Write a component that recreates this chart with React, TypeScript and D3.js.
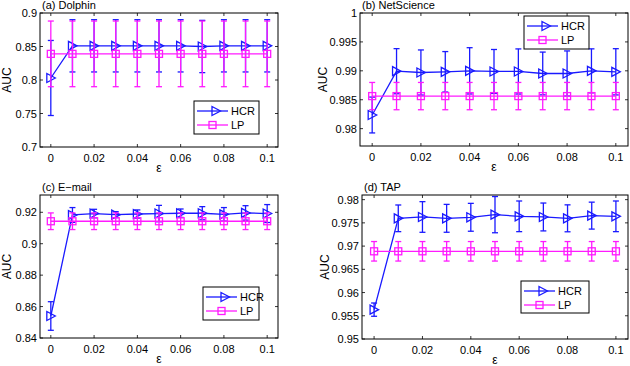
import React from 'react';
import * as d3 from 'd3';

// epsilon values shared by every panel
const EPS = [0, 0.01, 0.02, 0.03, 0.04, 0.05, 0.06, 0.07, 0.08, 0.09, 0.1];
const X_TICKS = [0, 0.02, 0.04, 0.06, 0.08, 0.1];

// (a) Dolphin
const dolphinHCR = [0.803, 0.851, 0.851, 0.851, 0.851, 0.851, 0.851, 0.850, 0.851, 0.851, 0.851];
const dolphinHCRErr = [0.056, 0.039, 0.039, 0.039, 0.039, 0.039, 0.039, 0.039, 0.039, 0.039, 0.039];
const dolphinLP = [0.839, 0.839, 0.839, 0.839, 0.839, 0.839, 0.839, 0.839, 0.839, 0.839, 0.839];
const dolphinLPErr = [0.049, 0.049, 0.049, 0.049, 0.049, 0.049, 0.049, 0.049, 0.049, 0.049, 0.049];
const dolphinTicks = [0.7, 0.75, 0.8, 0.85, 0.9];

// (b) NetScience
const netHCR = [0.98236, 0.98994, 0.98971, 0.98983, 0.99, 0.98989, 0.98989, 0.98954, 0.98954, 0.99, 0.98983];
const netHCRErr = [0.0031, 0.0039, 0.0039, 0.0035, 0.004, 0.0038, 0.0039, 0.0037, 0.0039, 0.0038, 0.004];
const netLP = [0.98563, 0.98563, 0.98563, 0.98563, 0.98563, 0.98563, 0.98563, 0.98563, 0.98563, 0.98563, 0.98563];
const netLPErr = [0.00236, 0.00236, 0.00236, 0.00236, 0.00236, 0.00236, 0.00236, 0.00236, 0.00236, 0.00236, 0.00236];
const netTicks = [0.98, 0.985, 0.99, 0.995, 1];

// (c) E-mail
const mailHCR = [0.854, 0.9183, 0.9192, 0.9185, 0.9189, 0.9192, 0.9194, 0.9194, 0.9187, 0.9196, 0.9192];
const mailHCRErr = [0.0091, 0.0047, 0.0027, 0.0019, 0.0026, 0.0052, 0.0027, 0.0042, 0.0043, 0.0046, 0.0057];
const mailLP = [0.9143, 0.9143, 0.9143, 0.9143, 0.9143, 0.9143, 0.9143, 0.9143, 0.9143, 0.9143, 0.9143];
const mailLPErr = [0.0053, 0.0053, 0.0053, 0.0053, 0.0053, 0.0053, 0.0053, 0.0053, 0.0053, 0.0053, 0.0053];
const mailTicks = [0.84, 0.86, 0.88, 0.9, 0.92];

// (d) TAP
const tapHCR = [0.95632, 0.97598, 0.97627, 0.97598, 0.9762, 0.97677, 0.97641, 0.97627, 0.97598, 0.97656, 0.97641];
const tapHCRErr = [0.00143, 0.00287, 0.0033, 0.003, 0.003, 0.0039, 0.0033, 0.003, 0.0029, 0.0029, 0.0033];
const tapLP = [0.96888, 0.96888, 0.96888, 0.96888, 0.96888, 0.96888, 0.96888, 0.96888, 0.96888, 0.96888, 0.96888];
const tapLPErr = [0.0021, 0.0021, 0.0021, 0.0021, 0.0021, 0.0021, 0.0021, 0.0021, 0.0021, 0.0021, 0.0021];
const tapTicks = [0.95, 0.955, 0.96, 0.965, 0.97, 0.975, 0.98];

const BLUE = '#1a1aff';
const MAGENTA = '#ff1aff';
const FONT = 'Liberation Sans, Arial, Helvetica, sans-serif';

type PanelProps = {
  title: string;
  box: { l: number; r: number; t: number; b: number };
  yLabelX: number;
  yDomain: [number, number];
  yTicks: number[];
  fmt: (v: number) => string;
  hcr: number[];
  hcrErr: number[];
  lp: number[];
  lpErr: number[];
  legend: { x: number; y: number; w: number; h: number };
};

const tri = (x: number, y: number) => `M${x - 4},${y - 4.5}L${x + 4.5},${y}L${x - 4},${y + 4.5}Z`;

const Series = ({ xs, ys, vals, errs, color, marker }: any) => {
  const line = d3.line<number>().x((_, i) => xs(EPS[i])).y(v => ys(v));
  return (
    <g stroke={color} fill="none" strokeWidth={1.3}>
      {vals.map((v: number, i: number) => {
        const x = xs(EPS[i]);
        const y0 = ys(v - errs[i]);
        const y1 = ys(v + errs[i]);
        return (
          <g key={i}>
            <line x1={x} x2={x} y1={y0} y2={y1} />
            <line x1={x - 3} x2={x + 3} y1={y0} y2={y0} />
            <line x1={x - 3} x2={x + 3} y1={y1} y2={y1} />
          </g>
        );
      })}
      <path d={line(vals) || ''} />
      {vals.map((v: number, i: number) =>
        marker === 'tri'
          ? <path key={'m' + i} d={tri(xs(EPS[i]), ys(v))} />
          : <rect key={'m' + i} x={xs(EPS[i]) - 3.5} y={ys(v) - 3.5} width={7} height={7} />
      )}
    </g>
  );
};

const Panel = (p: PanelProps) => {
  const { box } = p;
  const xs = d3.scaleLinear().domain([-0.005, 0.105]).range([box.l, box.r]);
  const ys = d3.scaleLinear().domain(p.yDomain).range([box.b, box.t]);
  const fx = (v: number) => (v === 0 ? '0' : d3.format('.2~f')(v));
  const lg = p.legend;
  return (
    <g fontFamily={FONT} fontSize={11}>
      <text x={box.l + 2} y={box.t - 4}>{p.title}</text>
      <rect x={box.l} y={box.t} width={box.r - box.l} height={box.b - box.t} fill="white" stroke="none" />
      {/* ticks inside box, both sides */}
      <g stroke="black" strokeWidth={0.8}>
        {X_TICKS.map(t => (
          <g key={t}>
            <line x1={xs(t)} x2={xs(t)} y1={box.b} y2={box.b - 3} />
            <line x1={xs(t)} x2={xs(t)} y1={box.t} y2={box.t + 3} />
          </g>
        ))}
        {p.yTicks.map(t => (
          <g key={t}>
            <line x1={box.l} x2={box.l + 3} y1={ys(t)} y2={ys(t)} />
            <line x1={box.r} x2={box.r - 3} y1={ys(t)} y2={ys(t)} />
          </g>
        ))}
      </g>
      {X_TICKS.map(t => (
        <text key={t} x={xs(t)} y={box.b + 15} textAnchor="middle">{fx(t)}</text>
      ))}
      {p.yTicks.map(t => (
        <text key={t} x={box.l - 3} y={ys(t) + 4} textAnchor="end">{p.fmt(t)}</text>
      ))}
      <text x={(box.l + box.r) / 2} y={box.b + 25} textAnchor="middle" fontSize={12}>ε</text>
      <text transform={`translate(${p.yLabelX},${(box.t + box.b) / 2}) rotate(-90)`} textAnchor="middle" fontSize={12}>AUC</text>
      <Series xs={xs} ys={ys} vals={p.hcr} errs={p.hcrErr} color={BLUE} marker="tri" />
      <Series xs={xs} ys={ys} vals={p.lp} errs={p.lpErr} color={MAGENTA} marker="sq" />
      <rect x={box.l} y={box.t} width={box.r - box.l} height={box.b - box.t} fill="none" stroke="black" strokeWidth={1} />
      {/* legend */}
      <g>
        <rect x={lg.x} y={lg.y} width={lg.w} height={lg.h} fill="white" stroke="black" strokeWidth={1} />
        <g fill="none" strokeWidth={1.3}>
          <line x1={lg.x + 3} x2={lg.x + 34} y1={lg.y + 10} y2={lg.y + 10} stroke={BLUE} />
          <path d={tri(lg.x + 22, lg.y + 10)} stroke={BLUE} />
          <line x1={lg.x + 3} x2={lg.x + 34} y1={lg.y + 24} y2={lg.y + 24} stroke={MAGENTA} />
          <rect x={lg.x + 15} y={lg.y + 20.5} width={7} height={7} stroke={MAGENTA} />
        </g>
        <text x={lg.x + 37} y={lg.y + 14}>HCR</text>
        <text x={lg.x + 37} y={lg.y + 28}>LP</text>
      </g>
    </g>
  );
};

export default function App() {
  const f2 = (v: number) => d3.format('~g')(v);
  return (
    <svg width={630} height={366} style={{ position: 'absolute', left: 0, top: 0, background: 'white' }}>
      <rect width={630} height={366} fill="white" />
      <Panel title="(a) Dolphin" box={{ l: 40, r: 278, t: 13, b: 147 }} yLabelX={11} yDomain={[0.7, 0.9]} yTicks={dolphinTicks} fmt={f2}
        hcr={dolphinHCR} hcrErr={dolphinHCRErr} lp={dolphinLP} lpErr={dolphinLPErr} legend={{ x: 194, y: 101, w: 65, h: 33 }} />
      <Panel title="(b)  NetScience" box={{ l: 360, r: 628, t: 13, b: 146 }} yLabelX={327} yDomain={[0.977, 1]} yTicks={netTicks} fmt={f2}
        hcr={netHCR} hcrErr={netHCRErr} lp={netLP} lpErr={netLPErr} legend={{ x: 524, y: 16, w: 65, h: 33 }} />
      <Panel title="(c) E−mail" box={{ l: 40, r: 278, t: 195, b: 338 }} yLabelX={11} yDomain={[0.84, 0.931]} yTicks={mailTicks} fmt={f2}
        hcr={mailHCR} hcrErr={mailHCRErr} lp={mailLP} lpErr={mailLPErr} legend={{ x: 203, y: 287, w: 56, h: 33 }} />
      <Panel title="(d) TAP" box={{ l: 362, r: 628, t: 195, b: 339 }} yLabelX={329} yDomain={[0.95, 0.981]} yTicks={tapTicks} fmt={f2}
        hcr={tapHCR} hcrErr={tapHCRErr} lp={tapLP} lpErr={tapLPErr} legend={{ x: 521, y: 281, w: 68, h: 32 }} />
    </svg>
  );
}
